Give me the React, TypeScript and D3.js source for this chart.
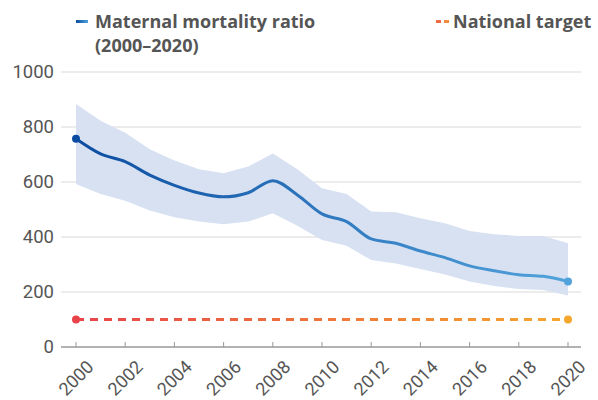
// Maternal mortality ratio with uncertainty band and national target.

import * as d3 from "d3";

const years = [
  2000, 2001, 2002, 2003, 2004, 2005, 2006, 2007, 2008, 2009, 2010, 2011, 2012,
  2013, 2014, 2015, 2016, 2017, 2018, 2019, 2020,
];
const mmr = [
  757, 702, 674, 625, 588, 560, 546, 561, 605, 553, 484, 456, 393, 377, 349,
  325, 295, 277, 263, 257, 238,
];
const upper = [
  884, 823, 779, 719, 678, 646, 632, 656, 704, 646, 577, 556, 493, 490, 468,
  450, 422, 410, 404, 404, 377,
];
const lower = [
  593, 556, 532, 496, 472, 456, 446, 456, 486, 441, 389, 368, 316, 304, 284,
  264, 238, 222, 211, 207, 187,
];
const target = 100;
const yTicks = [0, 200, 400, 600, 800, 1000];
const xTicks = [
  2000, 2002, 2004, 2006, 2008, 2010, 2012, 2014, 2016, 2018, 2020,
];

const font = "Roboto, 'Noto Sans', sans-serif";

export default function App() {
  const width = 598;
  const height = 400;
  const left = 61;
  const right = 581;

  const x = d3.scaleLinear([2000, 2020], [76, 568]);
  const y = d3.scaleLinear([0, 1000], [347, 72]);

  const band = d3
    .area<number>()
    .x((d, i) => x(years[i]))
    .y0((d, i) => y(lower[i]))
    .y1((d) => y(d));
  const line = d3
    .line<number>()
    .x((d, i) => x(years[i]))
    .y((d) => y(d))
    .curve(d3.curveMonotoneX);

  const x0 = x(years[0]);
  const x1 = x(years[years.length - 1]);

  return (
    <svg
      width={width}
      height={height}
      style={{ position: "absolute", left: 0, top: 0, fontFamily: font }}
    >
      <defs>
        <linearGradient id="blue" gradientUnits="userSpaceOnUse" x1={x0} x2={x1} y1={0} y2={0}>
          <stop offset="0" stopColor="#0b4ca1" />
          <stop offset="1" stopColor="#52a3db" />
        </linearGradient>
        <linearGradient id="orange" gradientUnits="userSpaceOnUse" x1={x0} x2={x1} y1={0} y2={0}>
          <stop offset="0" stopColor="#e8434b" />
          <stop offset="1" stopColor="#f5a72d" />
        </linearGradient>
        <linearGradient id="blueKey" x1="0" x2="1">
          <stop offset="0" stopColor="#0b4ca1" />
          <stop offset="1" stopColor="#52a3db" />
        </linearGradient>
      </defs>

      {/* legend */}
      <g fontWeight="bold" fontSize="18" fill="#555" fontFamily="'Open Sans', 'Noto Sans', sans-serif">
        <rect x={76} y={20} width={12} height={3} fill="url(#blueKey)" />
        <text x={95} y={28}>Maternal mortality ratio</text>
        <text x={95} y={52}>(2000–2020)</text>
        <rect x={436} y={20} width={5} height={3} fill="#ee6a45" />
        <rect x={444} y={20} width={5} height={3} fill="#f28a3c" />
        <text x={453} y={28}>National target</text>
      </g>

      {/* grid */}
      <g>
        {yTicks.slice(1).map((t) => (
          <line key={t} x1={left} x2={right} y1={y(t)} y2={y(t)} stroke="#d9d9d9" strokeWidth={1} />
        ))}
        {yTicks.map((t) => (
          <text key={t} x={54} y={y(t)} dy="0.35em" textAnchor="end" fontSize="18.5" fill="#555">
            {t}
          </text>
        ))}
      </g>

      {/* x axis */}
      <g>
        <line x1={left} x2={right} y1={y(0)} y2={y(0)} stroke="#999" strokeWidth={1.5} />
        {xTicks.map((t) => (
          <g key={t} transform={`translate(${x(t)},${y(0)})`}>
            <line y1={-5} y2={0} stroke="#999" />
            <text
              transform="translate(0,31) rotate(-45)"
              textAnchor="middle"
              dy="0.35em"
              fontSize="18"
              fill="#555"
            >
              {t}
            </text>
          </g>
        ))}
      </g>

      <path d={band(upper) ?? ""} fill="#d7e1f2" />
      <path d={line(mmr) ?? ""} fill="none" stroke="url(#blue)" strokeWidth={3} />
      <circle cx={x0} cy={y(mmr[0])} r={4} fill="#0b4ca1" />
      <circle cx={x1} cy={y(mmr[mmr.length - 1])} r={4} fill="#52a3db" />

      <line
        x1={x0}
        x2={x1}
        y1={y(target)}
        y2={y(target)}
        stroke="url(#orange)"
        strokeWidth={3}
        strokeDasharray="8 6"
      />
      <circle cx={x0} cy={y(target)} r={4} fill="#e8434b" />
      <circle cx={x1} cy={y(target)} r={4} fill="#f5a72d" />
    </svg>
  );
}
